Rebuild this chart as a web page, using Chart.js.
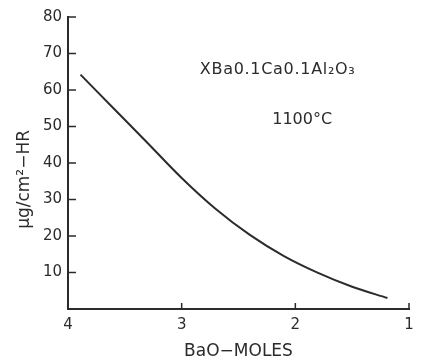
<!DOCTYPE html>
<html>
  <head>
    <title>BaO moles vs rate</title>
    <script src="https://cdn.jsdelivr.net/npm/chart.js"></script>
    <style>
      html, body {
        margin: 0;
        padding: 0;
        background: #fff;
      }
      .chart-box {
        width: 427px;
        height: 362px;
      }
    </style>
  </head>
  <body>
    <div class="chart-box">
      <canvas id="chart1" width="427" height="362"></canvas>
    </div>

    <script>
      // values
      const baoMoles = [3.89, 3.6, 3.3, 3.0, 2.7, 2.4, 2.1, 1.8, 1.5, 1.19];
      const rate = [64.2, 55.0, 45.5, 35.9, 27.4, 20.3, 14.5, 9.9, 6.1, 3.0];
      const xTicks = [4, 3, 2, 1];
      const yTicks = [10, 20, 30, 40, 50, 60, 70, 80];
      const formulaLabel = "XBa0.1Ca0.1Al\u2082O\u2083";
      const tempLabel = "1100°C";
      const yTitle = "\u03bcg/cm\u00b2\u2212HR";

      const ink = "#2b2b2b";
      const fontFamily = "'DejaVu Sans', sans-serif";

      // inward ticks, y title and the two notes
      const extras = {
        id: "extras",
        afterDraw(chart) {
          const { ctx, scales } = chart;
          const x = scales.x, y = scales.y;
          const x0 = x.getPixelForValue(4);
          const y0 = y.getPixelForValue(0);
          ctx.save();
          ctx.strokeStyle = ink;
          ctx.lineWidth = 1.5;
          ctx.beginPath();
          yTicks.forEach((v) => {
            const py = y.getPixelForValue(v);
            ctx.moveTo(x0, py);
            ctx.lineTo(x0 + 8, py);
          });
          xTicks.slice(1).forEach((v) => {
            const px = x.getPixelForValue(v);
            ctx.moveTo(px, y0);
            ctx.lineTo(px, y0 - 6);
          });
          ctx.stroke();

          ctx.fillStyle = ink;
          ctx.textBaseline = "middle";

          // y title, a bit below the middle as in the original
          ctx.save();
          ctx.font = "17px " + fontFamily;
          ctx.textAlign = "center";
          ctx.translate(25, y.getPixelForValue(35.5));
          ctx.rotate(-Math.PI / 2);
          ctx.fillText(yTitle, 0, 0);
          ctx.restore();

          ctx.font = "16px " + fontFamily;
          ctx.letterSpacing = "0.7px";
          ctx.textAlign = "left";
          ctx.fillText(formulaLabel, x.getPixelForValue(2.84), y.getPixelForValue(65.4));
          ctx.textAlign = "center";
          ctx.letterSpacing = "0px";
          ctx.fillText(tempLabel, x.getPixelForValue(1.94), y.getPixelForValue(51.8));
          ctx.restore();
        },
      };

      const ctx1 = document.getElementById("chart1").getContext("2d");
      new Chart(ctx1, {
        type: "scatter",
        data: {
          datasets: [
            {
              data: baoMoles.map((b, i) => ({ x: b, y: rate[i] })),
              showLine: true,
              borderColor: ink,
              borderWidth: 2,
              pointRadius: 0,
              cubicInterpolationMode: "monotone",
              fill: false,
            },
          ],
        },
        options: {
          responsive: false,
          animation: false,
          events: [],
          layout: { padding: { top: 17, right: 18, left: 0, bottom: 0 } },
          plugins: {
            legend: { display: false },
            tooltip: { enabled: false },
          },
          scales: {
            x: {
              type: "linear",
              reverse: true,
              min: 1,
              max: 4,
              afterFit: (s) => { s.height = 53; },
              afterBuildTicks: (s) => { s.ticks = xTicks.map((v) => ({ value: v })); },
              grid: { display: false, drawTicks: false },
              border: { display: true, color: ink, width: 2 },
              ticks: {
                color: ink,
                padding: 7,
                maxRotation: 0,
                font: { family: fontFamily, size: 15 },
              },
              title: {
                display: true,
                text: "BaO\u2212MOLES",
                color: ink,
                padding: { top: 0, bottom: 0 },
                font: { family: fontFamily, size: 17 },
              },
            },
            y: {
              type: "linear",
              min: 0,
              max: 80,
              afterFit: (s) => { s.width = 68; },
              afterBuildTicks: (s) => { s.ticks = yTicks.map((v) => ({ value: v })); },
              grid: { display: false, drawTicks: false },
              border: { display: true, color: ink, width: 2 },
              ticks: {
                color: ink,
                padding: 6,
                font: { family: fontFamily, size: 15 },
              },
            },
          },
        },
        plugins: [extras],
      });
    </script>
  </body>
</html>
